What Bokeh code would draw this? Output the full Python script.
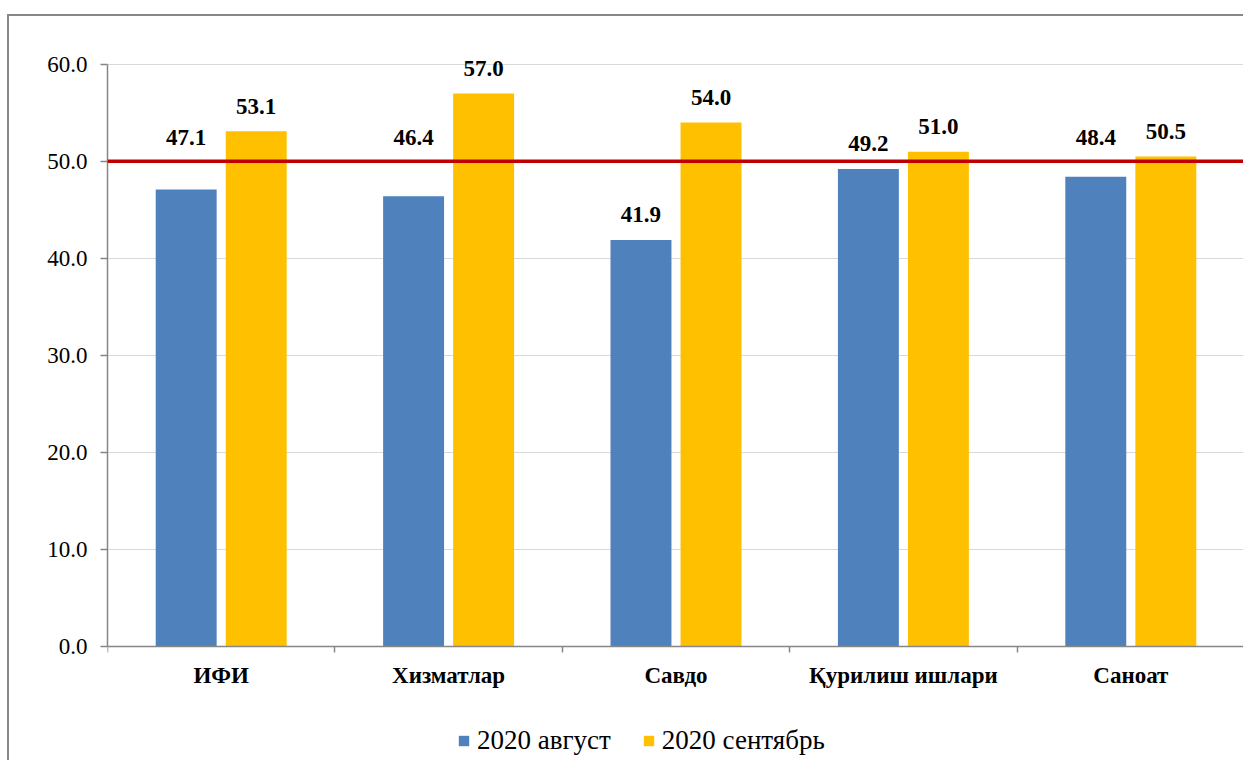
from bokeh.plotting import figure
from bokeh.models import (Range1d, FixedTicker, NumeralTickFormatter, Span,
                          Legend, LegendItem, ColumnDataSource)
from bokeh.transform import dodge
from bokeh.core.properties import value
from bokeh.embed import file_html
from bokeh.resources import INLINE

# ---- data ----
categories = ["ИФИ", "Хизматлар", "Савдо", "Қурилиш ишлари", "Саноат"]
series_names = ["2020 август", "2020 сентябрь"]
august = [47.1, 46.4, 41.9, 49.2, 48.4]
september = [53.1, 57.0, 54.0, 51.0, 50.5]
y_ticks = [0, 10, 20, 30, 40, 50, 60]
threshold = 50.0

# ---- style ----
FONT = "'Liberation Serif', 'DejaVu Serif', 'Noto Serif', 'Times New Roman', Times, serif"
BLUE = "#4F81BD"
YELLOW = "#FFC000"
AXIS = "#868686"
RED = "#C00000"
OFF = 0.154
BAR_W = 0.268

pos = [i + 0.5 for i in range(len(categories))]


def label_y(v):
    y = v + 2.6
    return y if abs(y - threshold) > 1.3 else threshold + 2.5


src = ColumnDataSource(dict(
    x=pos, aug=august, sep=september,
    aug_lab=[f"{v:.1f}" for v in august],
    sep_lab=[f"{v:.1f}" for v in september],
    aug_y=[label_y(v) for v in august],
    sep_y=[label_y(v) for v in september],
))

p = figure(width=1236, height=746,
           x_range=Range1d(0, len(categories)), y_range=Range1d(-11.96, 64),
           output_backend="svg", toolbar_location=None,
           min_border_left=98, min_border_right=1,
           min_border_top=9, min_border_bottom=0)
p.styles = {"margin-left": "7px", "margin-top": "14px",
            "border-left": "2px solid #878787",
            "border-top": "2px solid #878787"}
p.outline_line_color = None
p.background_fill_color = "white"
p.border_fill_color = "white"

# grid
p.xgrid.visible = False
p.ygrid.grid_line_color = "#D9D9D9"
p.ygrid.grid_line_width = 1

# y axis
ya = p.yaxis[0]
ya.ticker = FixedTicker(ticks=y_ticks)
ya.formatter = NumeralTickFormatter(format="0.0")
ya.bounds = (0, 60)
ya.axis_line_color = AXIS
ya.axis_line_width = 1.5
ya.major_tick_line_color = AXIS
ya.major_tick_line_width = 1.5
ya.major_tick_in = 0
ya.major_tick_out = 7
ya.minor_tick_line_color = None
ya.major_label_standoff = 13
ya.major_label_text_font = FONT
ya.major_label_text_font_size = "23px"
ya.major_label_text_color = "black"

# x axis (drawn at y = 0 inside the frame)
xa = p.xaxis[0]
xa.fixed_location = 0
xa.ticker = FixedTicker(ticks=pos, minor_ticks=list(range(len(categories) + 1)))
xa.major_label_overrides = {x: c for x, c in zip(pos, categories)}
xa.axis_line_color = AXIS
xa.axis_line_width = 1.5
xa.major_tick_line_color = None
xa.major_tick_in = 0
xa.major_tick_out = 0
xa.minor_tick_line_color = AXIS
xa.minor_tick_line_width = 1.5
xa.minor_tick_in = 0
xa.minor_tick_out = 6
xa.major_label_standoff = 11
xa.major_label_text_font = FONT
xa.major_label_text_font_style = "bold"
xa.major_label_text_font_size = "23px"
xa.major_label_text_color = "black"

# bars
r1 = p.vbar(x=dodge("x", -OFF), top="aug", width=BAR_W, source=src,
            fill_color=BLUE, line_color=None)
r2 = p.vbar(x=dodge("x", OFF), top="sep", width=BAR_W, source=src,
            fill_color=YELLOW, line_color=None)

# threshold line
p.add_layout(Span(location=threshold, dimension="width",
                  line_color=RED, line_width=3.5))

# data labels
for xo, ycol, tcol in ((-OFF, "aug_y", "aug_lab"), (OFF, "sep_y", "sep_lab")):
    p.text(x=dodge("x", xo), y=ycol, text=tcol, source=src,
           text_font=value(FONT), text_font_style="bold",
           text_font_size="23px", text_align="center",
           text_baseline="middle", text_color="black")

# legend
legend = Legend(items=[LegendItem(label=series_names[0], renderers=[r1]),
                       LegendItem(label=series_names[1], renderers=[r2])],
                orientation="horizontal", location=(350, 6),
                glyph_width=13, glyph_height=13, label_standoff=7,
                spacing=31, padding=0, margin=0,
                border_line_color=None, background_fill_alpha=0,
                label_text_font=FONT, label_text_font_size="27px",
                label_text_color="black")
p.add_layout(legend)

open("out.html", "w").write(file_html(p, INLINE))
